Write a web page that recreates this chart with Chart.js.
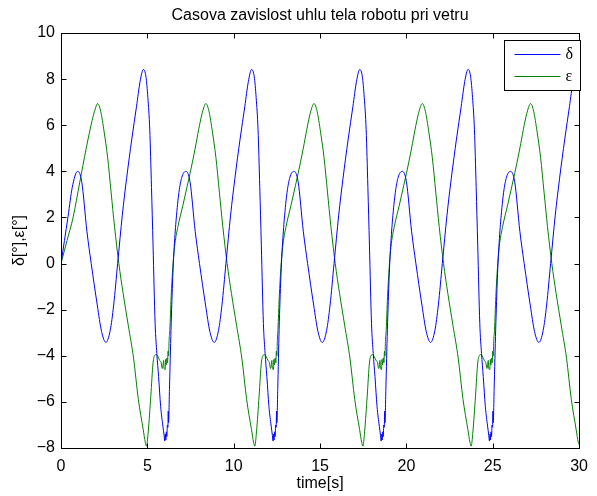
<!DOCTYPE html>
<html>
<head>
<meta charset="utf-8">
<script src="https://cdn.jsdelivr.net/npm/chart.js@4.4.1/dist/chart.umd.min.js"></script>
<style>
    html, body { margin: 0; padding: 0; background: #ffffff; }
    #chart { display: block; }
</style>
</head>
<body>
<canvas id="chart" width="597" height="496"></canvas>
<script>
const TITLE = "Casova zavislost uhlu tela robotu pri vetru";
const X_LABEL = "time[s]";
const Y_LABEL = "δ[°],ε[°]";
const SERIES_LABELS = ["δ", "ε"];
const X_TICKS = [0, 5, 10, 15, 20, 25, 30];
const Y_TICKS = [-8, -6, -4, -2, 0, 2, 4, 6, 8, 10];

// delta (blue), one line per swing
const deltaTime = [
    0, 0.20, 0.41, 0.65, 0.96, 1.20, 1.50, 1.75, 2.10, 2.35, 2.60, 2.85, 3.05, 3.28, 3.55, 3.80, 4.10, 4.37, 4.58, 4.77, 4.92, 5.03, 5.14, 5.24, 5.33, 5.45, 5.55, 5.65, 5.77, 5.90, 5.97, 6.01, 6.04, 6.07, 6.10, 6.13, 6.16, 6.19, 6.21, 6.23, 6.28,
    6.37, 6.47, 6.57, 6.69, 6.85, 7.02, 7.23, 7.47, 7.77, 8.02, 8.37, 8.62, 8.87, 9.12, 9.32, 9.55, 9.82, 10.07, 10.37, 10.64, 10.85, 11.04, 11.19, 11.30, 11.41, 11.51, 11.60, 11.72, 11.82, 11.92, 12.04, 12.17, 12.24, 12.28, 12.31, 12.34, 12.37, 12.40, 12.43, 12.46, 12.48, 12.50, 12.55,
    12.63, 12.73, 12.83, 12.95, 13.11, 13.28, 13.49, 13.73, 14.03, 14.28, 14.63, 14.88, 15.13, 15.38, 15.58, 15.81, 16.08, 16.33, 16.63, 16.90, 17.11, 17.30, 17.45, 17.56, 17.67, 17.77, 17.86, 17.98, 18.08, 18.18, 18.30, 18.43, 18.50, 18.54, 18.57, 18.60, 18.63, 18.66, 18.69, 18.72, 18.74, 18.76, 18.81,
    18.90, 19.00, 19.10, 19.22, 19.38, 19.55, 19.76, 20.00, 20.30, 20.55, 20.90, 21.15, 21.40, 21.65, 21.85, 22.08, 22.35, 22.60, 22.90, 23.17, 23.38, 23.57, 23.72, 23.83, 23.94, 24.04, 24.13, 24.25, 24.35, 24.45, 24.57, 24.70, 24.77, 24.81, 24.84, 24.87, 24.90, 24.93, 24.96, 24.99, 25.01, 25.03, 25.08,
    25.17, 25.27, 25.37, 25.49, 25.65, 25.82, 26.03, 26.27, 26.57, 26.82, 27.17, 27.42, 27.67, 27.92, 28.12, 28.35, 28.62, 28.87, 29.17, 29.44, 29.65, 29.84, 30.00,
];
const deltaDeg = [
    0, 1.0, 2.05, 3.3, 4.0, 3.55, 1.4, 0.0, -1.8, -2.95, -3.42, -2.9, -1.8, 0.0, 2.1, 3.7, 5.4, 6.8, 7.9, 8.42, 8.1, 7.2, 5.8, 3.3, 0.8, -2.6, -3.9, -4.9, -6.2, -7.05, -7.45, -7.7, -7.4, -7.65, -7.3, -7.5, -7.0, -7.1, -6.4, -6.9, -5.46,
    -2.86, -0.6, 0.9, 2.1, 3.2, 3.8, 4.0, 3.55, 1.4, 0.0, -1.8, -2.95, -3.42, -2.9, -1.8, 0.0, 2.1, 3.7, 5.4, 6.8, 7.9, 8.42, 8.1, 7.2, 5.8, 3.3, 0.8, -2.6, -3.9, -4.9, -6.2, -7.05, -7.45, -7.7, -7.4, -7.65, -7.3, -7.5, -7.0, -7.1, -6.4, -6.9, -5.46,
    -2.86, -0.6, 0.9, 2.1, 3.2, 3.8, 4.0, 3.55, 1.4, 0.0, -1.8, -2.95, -3.42, -2.9, -1.8, 0.0, 2.1, 3.7, 5.4, 6.8, 7.9, 8.42, 8.1, 7.2, 5.8, 3.3, 0.8, -2.6, -3.9, -4.9, -6.2, -7.05, -7.45, -7.7, -7.4, -7.65, -7.3, -7.5, -7.0, -7.1, -6.4, -6.9, -5.46,
    -2.86, -0.6, 0.9, 2.1, 3.2, 3.8, 4.0, 3.55, 1.4, 0.0, -1.8, -2.95, -3.42, -2.9, -1.8, 0.0, 2.1, 3.7, 5.4, 6.8, 7.9, 8.42, 8.1, 7.2, 5.8, 3.3, 0.8, -2.6, -3.9, -4.9, -6.2, -7.05, -7.45, -7.7, -7.4, -7.65, -7.3, -7.5, -7.0, -7.1, -6.4, -6.9, -5.46,
    -2.86, -0.6, 0.9, 2.1, 3.2, 3.8, 4.0, 3.55, 1.4, 0.0, -1.8, -2.95, -3.42, -2.9, -1.8, 0.0, 2.1, 3.7, 5.4, 6.8, 7.9, 8.42, 8.2,
];

// epsilon (green)
const epsTime = [
    0, 0.35, 0.70, 1.08, 1.46, 1.80, 1.98, 2.12, 2.30, 2.50, 2.70, 2.90, 3.10, 3.35, 3.60, 3.90, 4.20, 4.48, 4.76, 4.88, 4.95, 5.05, 5.20, 5.33, 5.43, 5.52, 5.62, 5.71, 5.80, 5.86, 5.90, 5.94, 5.97, 6.03, 6.06, 6.09, 6.13, 6.17, 6.20, 6.23, 6.26,
    6.30, 6.38, 6.47, 6.57, 6.77, 7.05, 7.32, 7.61, 7.82, 8.02, 8.22, 8.39, 8.57, 8.77, 8.97, 9.17, 9.37, 9.62, 9.87, 10.17, 10.47, 10.75, 11.03, 11.15, 11.22, 11.32, 11.47, 11.60, 11.70, 11.79, 11.89, 11.98, 12.07, 12.13, 12.17, 12.21, 12.24, 12.30, 12.33, 12.36, 12.40, 12.44, 12.47, 12.50, 12.53,
    12.56, 12.64, 12.73, 12.83, 13.03, 13.31, 13.58, 13.87, 14.08, 14.28, 14.48, 14.65, 14.83, 15.03, 15.23, 15.43, 15.63, 15.88, 16.13, 16.43, 16.73, 17.01, 17.29, 17.41, 17.48, 17.58, 17.73, 17.86, 17.96, 18.05, 18.15, 18.24, 18.33, 18.39, 18.43, 18.47, 18.50, 18.56, 18.59, 18.62, 18.66, 18.70, 18.73, 18.76, 18.79,
    18.83, 18.91, 19.00, 19.10, 19.30, 19.58, 19.85, 20.14, 20.35, 20.55, 20.75, 20.92, 21.10, 21.30, 21.50, 21.70, 21.90, 22.15, 22.40, 22.70, 23.00, 23.28, 23.56, 23.68, 23.75, 23.85, 24.00, 24.13, 24.23, 24.32, 24.42, 24.51, 24.60, 24.66, 24.70, 24.74, 24.77, 24.83, 24.86, 24.89, 24.93, 24.97, 25.00, 25.03, 25.06,
    25.10, 25.18, 25.27, 25.37, 25.57, 25.85, 26.12, 26.41, 26.62, 26.82, 27.02, 27.19, 27.37, 27.57, 27.77, 27.97, 28.17, 28.42, 28.67, 28.97, 29.27, 29.55, 29.83, 29.95, 30.00,
];
const epsDeg = [
    0, 1.0, 2.0, 3.5, 5.0, 6.2, 6.7, 6.94, 6.6, 5.7, 4.6, 3.1, 1.6, 0.0, -1.3, -2.7, -4.1, -5.9, -7.2, -7.75, -7.92, -7.3, -5.75, -4.31, -3.98, -3.95, -4.05, -4.2, -4.3, -4.55, -4.45, -4.2, -4.55, -4.6, -4.16, -4.4, -4.1, -4.3, -3.8, -4.0, -3.3,
    -2.9, -1.42, -0.2, 0.7, 1.6, 2.5, 3.4, 4.4, 5.2, 6.0, 6.65, 6.94, 6.6, 5.7, 4.6, 3.1, 1.6, 0.0, -1.3, -2.7, -4.1, -5.9, -7.2, -7.75, -7.92, -7.3, -5.75, -4.31, -3.98, -3.95, -4.05, -4.2, -4.3, -4.55, -4.45, -4.2, -4.55, -4.6, -4.16, -4.4, -4.1, -4.3, -3.8, -4.0, -3.3,
    -2.9, -1.42, -0.2, 0.7, 1.6, 2.5, 3.4, 4.4, 5.2, 6.0, 6.65, 6.94, 6.6, 5.7, 4.6, 3.1, 1.6, 0.0, -1.3, -2.7, -4.1, -5.9, -7.2, -7.75, -7.92, -7.3, -5.75, -4.31, -3.98, -3.95, -4.05, -4.2, -4.3, -4.55, -4.45, -4.2, -4.55, -4.6, -4.16, -4.4, -4.1, -4.3, -3.8, -4.0, -3.3,
    -2.9, -1.42, -0.2, 0.7, 1.6, 2.5, 3.4, 4.4, 5.2, 6.0, 6.65, 6.94, 6.6, 5.7, 4.6, 3.1, 1.6, 0.0, -1.3, -2.7, -4.1, -5.9, -7.2, -7.75, -7.92, -7.3, -5.75, -4.31, -3.98, -3.95, -4.05, -4.2, -4.3, -4.55, -4.45, -4.2, -4.55, -4.6, -4.16, -4.4, -4.1, -4.3, -3.8, -4.0, -3.3,
    -2.9, -1.42, -0.2, 0.7, 1.6, 2.5, 3.4, 4.4, 5.2, 6.0, 6.65, 6.94, 6.6, 5.7, 4.6, 3.1, 1.6, 0.0, -1.3, -2.7, -4.1, -5.9, -7.2, -7.75, -7.85,
];

const FONT = "'Liberation Sans', Arial, sans-serif";

function toPoints(xs, ys) {
    return xs.map((x, i) => ({ x: x, y: ys[i] }));
}

function minus(value) {
    return String(value).replace("-", "\u2212");
}

// box, inward ticks, title and legend the way matlab draws them
const matlabAxes = {
    id: "matlabAxes",
    afterDatasetsDraw(chart) {
        const ctx = chart.ctx;
        const a = chart.chartArea;
        const x = chart.scales.x;
        const y = chart.scales.y;
        const l = Math.round(a.left) + 0.5;
        const r = Math.round(a.right) + 0.5;
        const t = Math.round(a.top) + 0.5;
        const b = Math.round(a.bottom) + 0.5;
        const tick = 5;

        ctx.save();
        ctx.strokeStyle = "#000000";
        ctx.lineWidth = 1;
        ctx.strokeRect(l, t, r - l, b - t);

        ctx.beginPath();
        X_TICKS.forEach((v) => {
            const px = Math.round(x.getPixelForValue(v)) + 0.5;
            ctx.moveTo(px, b); ctx.lineTo(px, b - tick);
            ctx.moveTo(px, t); ctx.lineTo(px, t + tick);
        });
        Y_TICKS.forEach((v) => {
            const py = Math.round(y.getPixelForValue(v)) + 0.5;
            ctx.moveTo(l, py); ctx.lineTo(l + tick, py);
            ctx.moveTo(r, py); ctx.lineTo(r - tick, py);
        });
        ctx.stroke();

        // title
        ctx.fillStyle = "#000000";
        ctx.font = "16px " + FONT;
        ctx.textAlign = "center";
        ctx.textBaseline = "alphabetic";
        ctx.fillText(TITLE, (a.left + a.right) / 2, 20);

        // legend
        const box = { left: 504.5, top: 40.5, width: 76, height: 50 };
        ctx.fillStyle = "#ffffff";
        ctx.fillRect(box.left, box.top, box.width, box.height);
        ctx.strokeRect(box.left, box.top, box.width, box.height);
        ctx.font = "16px 'Liberation Serif', 'DejaVu Serif', serif";
        ctx.textAlign = "left";
        ctx.textBaseline = "middle";
        chart.data.datasets.forEach((ds, i) => {
            const ly = box.top + 14 + i * 22;
            ctx.strokeStyle = ds.borderColor;
            ctx.beginPath();
            ctx.moveTo(box.left + 10, ly);
            ctx.lineTo(box.left + 56, ly);
            ctx.stroke();
            ctx.fillStyle = "#000000";
            ctx.fillText(ds.label, box.left + 61, ly);
        });
        ctx.restore();
    },
};

Chart.defaults.font.family = FONT;
Chart.defaults.font.size = 16;
Chart.defaults.color = "#000000";

const chart = new Chart(document.getElementById("chart"), {
    type: "line",
    data: {
        datasets: [
            {
                label: SERIES_LABELS[0],
                data: toPoints(deltaTime, deltaDeg),
                borderColor: "#0000ff",
                borderWidth: 1,
                pointRadius: 0,
                cubicInterpolationMode: "monotone",
                fill: false,
            },
            {
                label: SERIES_LABELS[1],
                data: toPoints(epsTime, epsDeg),
                borderColor: "#008000",
                borderWidth: 1,
                pointRadius: 0,
                cubicInterpolationMode: "monotone",
                fill: false,
            },
        ],
    },
    options: {
        responsive: false,
        animation: false,
        events: [],
        layout: {
            padding: { top: 33, right: 7, left: 0, bottom: 0 },
        },
        plugins: {
            legend: { display: false },
            title: { display: false },
            tooltip: { enabled: false },
        },
        scales: {
            x: {
                type: "linear",
                min: 0,
                max: 30,
                afterBuildTicks: (scale) => {
                    scale.ticks = X_TICKS.map((v) => ({ value: v }));
                },
                afterFit: (scale) => {
                    scale.height = 48;
                },
                grid: { display: false, drawTicks: false },
                border: { display: false },
                ticks: {
                    autoSkip: false,
                    maxRotation: 0,
                    padding: 9,
                    callback: (value) => minus(value),
                },
                title: {
                    display: true,
                    text: X_LABEL,
                    padding: { top: 0, bottom: 3 },
                },
            },
            y: {
                min: -8,
                max: 10,
                afterBuildTicks: (scale) => {
                    scale.ticks = Y_TICKS.map((v) => ({ value: v }));
                },
                afterFit: (scale) => {
                    scale.width = 61;
                },
                grid: { display: false, drawTicks: false },
                border: { display: false },
                ticks: {
                    autoSkip: false,
                    padding: 6,
                    callback: (value) => minus(value),
                },
                title: {
                    display: true,
                    text: Y_LABEL,
                    padding: { top: 10, bottom: 0 },
                },
            },
        },
    },
    plugins: [matlabAxes],
});
</script>
</body>
</html>
